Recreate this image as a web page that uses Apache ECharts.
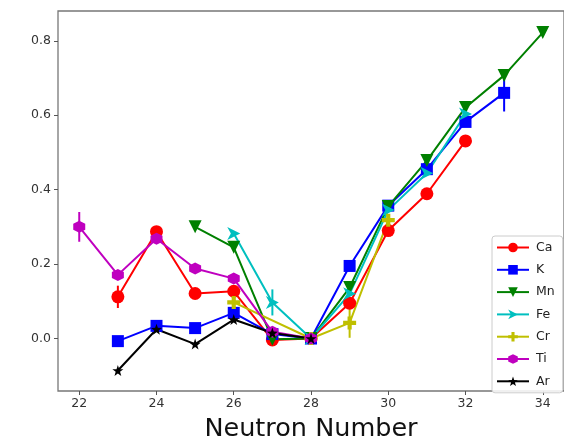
<!DOCTYPE html>
<html>
<head>
<meta charset="utf-8">
<script src="https://cdn.jsdelivr.net/npm/echarts@6/dist/echarts.min.js"></script>
<style>html,body{margin:0;padding:0;background:#fff;}#c{width:564px;height:447px;}</style>
</head>
<body>
<div id="c"></div>
<script>
// Neutron numbers and values per element
const caN = [23, 24, 25, 26, 27, 28, 29, 30, 31, 32];
const caV = [0.112, 0.287, 0.121, 0.127, -0.004, 0, 0.095, 0.29, 0.389, 0.531];
const caE = [0.03, 0, 0, 0, 0, 0, 0, 0, 0, 0];

const kN = [23, 24, 25, 26, 27, 28, 29, 30, 31, 32, 33];
const kV = [-0.007, 0.034, 0.028, 0.069, 0.012, 0, 0.195, 0.357, 0.455, 0.582, 0.66];
const kE = [0, 0, 0, 0, 0, 0, 0, 0, 0, 0, 0.05];

const mnN = [25, 26, 27, 28, 29, 30, 31, 32, 33, 34];
const mnV = [0.30, 0.245, -0.002, 0, 0.137, 0.355, 0.478, 0.621, 0.707, 0.822];
const mnE = [0, 0, 0, 0, 0, 0, 0, 0, 0, 0];

const feN = [26, 27, 28, 29, 30, 31, 32];
const feV = [0.282, 0.097, 0, 0.12, 0.345, 0.444, 0.603];
const feE = [0, 0.035, 0, 0, 0, 0, 0];

const crN = [26, 28, 29, 30];
const crV = [0.097, 0, 0.042, 0.318];
const crE = [0, 0, 0.04, 0];

const tiN = [22, 23, 24, 25, 26, 27, 28];
const tiV = [0.30, 0.171, 0.268, 0.188, 0.161, 0.018, 0];
const tiE = [0.04, 0, 0, 0, 0, 0, 0];

const arN = [23, 24, 25, 26, 27, 28];
const arV = [-0.086, 0.025, -0.015, 0.051, 0.015, 0];
const arE = [0, 0, 0, 0, 0, 0];

const xTicks = [22, 24, 26, 28, 30, 32, 34];
const yTicks = [0.0, 0.2, 0.4, 0.6, 0.8];

const names = ['Ca', 'K', 'Mn', 'Fe', 'Cr', 'Ti', 'Ar'];
const colors = ['#ff0000', '#0000ff', '#008000', '#00bfbf', '#bfbf00', '#bf00bf', '#000000'];
const starPath = 'path://M0,-10 L2.35,-3.24 L9.51,-3.09 L3.8,1.24 L5.88,8.09 L0,4 L-5.88,8.09 L-3.8,1.24 L-9.51,-3.09 L-2.35,-3.24 Z';
const hexPath = 'path://M0,-10 L8.66,-5 L8.66,5 L0,10 L-8.66,5 L-8.66,-5 Z';
const plusPath = 'path://M-3.2,-10 L3.2,-10 L3.2,-3.2 L10,-3.2 L10,3.2 L3.2,3.2 L3.2,10 L-3.2,10 L-3.2,3.2 L-10,3.2 L-10,-3.2 L-3.2,-3.2 Z';
const arrowPath = 'path://M10,0 L-8,-9 L-3,0 L-8,9 Z';
const symbols = ['circle', 'rect', 'triangle', arrowPath, plusPath, hexPath, starPath];
const rotates = [0, 0, 180, 0, 0, 0, 0];
const sizes = [13, 12, 13, 13, 13, 12, 11];
const allN = [caN, kN, mnN, feN, crN, tiN, arN];
const allV = [caV, kV, mnV, feV, crV, tiV, arV];
const allE = [caE, kE, mnE, feE, crE, tiE, arE];

const series = [];
names.forEach((nm, i) => {
  const errData = [];
  allN[i].forEach((n, j) => { if (allE[i][j] > 0) errData.push([n, allV[i][j], allE[i][j]]); });
  series.push({
    type: 'custom',
    name: nm + ' err',
    data: errData,
    silent: true,
    renderItem: function (params, api) {
      const p1 = api.coord([api.value(0), api.value(1) - api.value(2)]);
      const p2 = api.coord([api.value(0), api.value(1) + api.value(2)]);
      return { type: 'line', shape: { x1: p1[0], y1: p1[1], x2: p2[0], y2: p2[1] },
        style: { stroke: colors[i], lineWidth: 2 } };
    },
    z: 2
  });
  series.push({
    type: 'line',
    name: nm,
    data: allN[i].map((n, j) => [n, allV[i][j]]),
    symbol: symbols[i],
    symbolRotate: rotates[i],
    symbolSize: sizes[i],
    showAllSymbol: true,
    lineStyle: { color: colors[i], width: 2 },
    itemStyle: { color: colors[i], borderWidth: 0 },
    animation: false,
    z: 2
  });
});

const chart = echarts.init(document.getElementById('c'), null, { renderer: 'canvas' });
chart.setOption({
  animation: false,
  backgroundColor: '#fff',
  grid: { left: 58, top: 11, width: 512, height: 383, show: true, borderColor: '#777', borderWidth: 1.3, backgroundColor: 'transparent' },
  xAxis: {
    type: 'value', min: 21.45, max: 34.55,
    name: 'Neutron Number', nameLocation: 'middle', nameGap: 25,
    nameTextStyle: { fontFamily: 'DejaVu Sans', fontSize: 25.5, color: '#111' },
    axisLine: { show: false, onZero: false },
    axisTick: { show: true, inside: false, length: 4, lineStyle: { color: '#555', width: 1 }, customValues: xTicks },
    axisLabel: { fontFamily: 'DejaVu Sans', fontSize: 12.5, color: '#333', margin: 6, customValues: xTicks },
    splitLine: { show: false }
  },
  yAxis: {
    type: 'value', min: -0.141, max: 0.88,
    axisLine: { show: false, onZero: false },
    axisTick: { show: true, inside: false, length: 4, lineStyle: { color: '#555', width: 1 }, customValues: yTicks },
    axisLabel: { fontFamily: 'DejaVu Sans', fontSize: 12.5, color: '#333', margin: 7, customValues: yTicks, formatter: v => v.toFixed(1) },
    splitLine: { show: false }
  },
  legend: {
    data: names,
    orient: 'vertical',
    left: 492, top: 236,
    itemWidth: 32, itemHeight: 12, itemGap: 9.3,
    padding: [5, 8, 5, 4],
    borderColor: '#ccc', borderWidth: 1, borderRadius: 3,
    backgroundColor: 'rgba(255,255,255,0.85)',
    textStyle: { fontFamily: 'DejaVu Sans', fontSize: 12.5, color: '#222', padding: [0, 0, 0, 2] }
  },
  series: series
});
</script>
</body>
</html>
